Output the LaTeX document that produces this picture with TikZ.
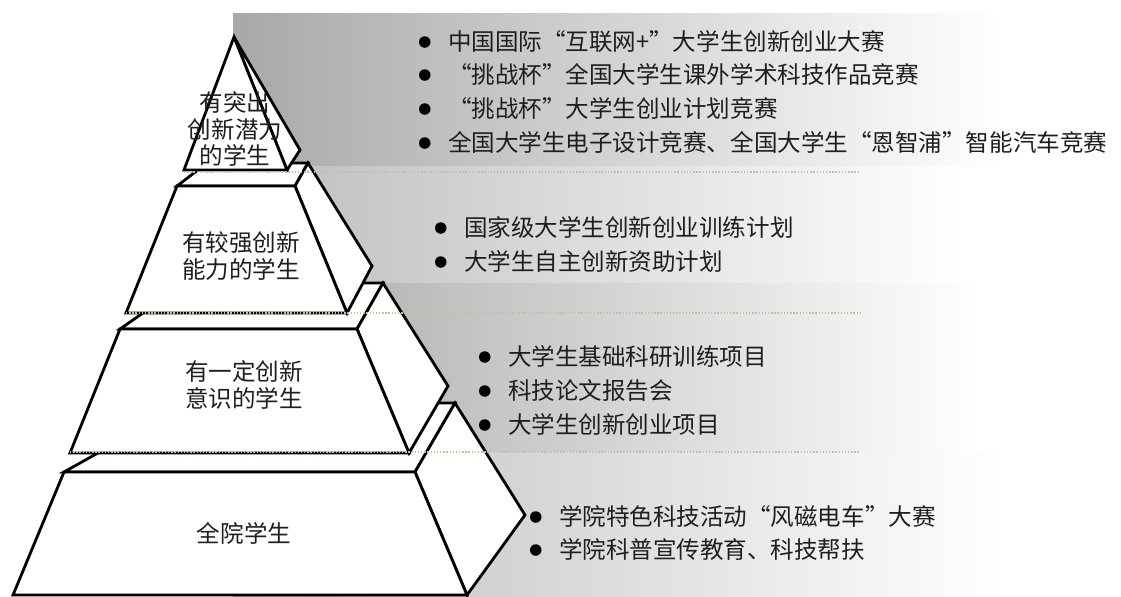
\documentclass[tikz,border=0pt]{standalone}
\usepackage{fontspec}
\setmainfont{Noto Sans CJK SC}
\usetikzlibrary{positioning}
\definecolor{bandgray}{HTML}{A8A8A8}
\definecolor{bandlight}{HTML}{BCBCBC}
\definecolor{golden}{HTML}{CDBE92}
\definecolor{ink}{HTML}{1E1E1E}
\tikzstyle{band} = [left color=#1, middle color=#1!65!white, right color=white, draw=none]
\tikzstyle{face} = [draw, fill=white, line width=1.6pt, miter limit=4]
\tikzstyle{rule} = [draw=golden, line width=0.8pt, densely dotted]
\tikzstyle{level} = [align=center, text=ink, inner sep=0pt, font=\fontsize{13.4}{15}\selectfont]
\tikzstyle{dot} = [circle, fill=black, inner sep=0pt, outer sep=0pt, minimum size=0.23cm]
\tikzstyle{item} = [anchor=west, inner sep=0pt, outer sep=0pt, text=ink, font=\fontsize{13.4}{15}\selectfont, text height=11.8pt, text depth=1.6pt]

\begin{document}
\begin{tikzpicture}[x=0.02cm, y=-0.02cm, node distance=0.35cm]
\useasboundingbox [fill=white] (0,0) rectangle (1121,596);
% grey bands behind the lists
\path [band=bandgray] (233,13) rectangle (1000,166);
\path [band=bandlight] (233,166) rectangle (960,283);
\path [band=bandgray] (233,283) rectangle (980,452);
\path [band=bandlight] (233,452) rectangle (1000,596);
% pyramid, bottom level first
\path [face] (64,472) -- (187,403) -- (455,403) -- (415,472) -- cycle;
\path [face] (415,472) -- (455,403) -- (525,515) -- (467,595) -- cycle;
\path [face] (64,472) -- (415,472) -- (467,595) -- (13,595) -- cycle;
\path [face] (120,329) -- (186,283) -- (383,283) -- (357,329) -- cycle;
\path [face] (357,329) -- (383,283) -- (448,386) -- (409,453) -- cycle;
\path [face] (120,329) -- (357,329) -- (409,453) -- (70,453) -- cycle;
\path [face] (177,186) -- (207,163) -- (308,163) -- (295,186) -- cycle;
\path [face] (295,186) -- (308,163) -- (372,266) -- (347,313) -- cycle;
\path [face] (177,186) -- (295,186) -- (347,313) -- (126,313) -- cycle;
\path [face] (234,37) -- (300,150) -- (287,170) -- cycle;
\path [face] (234,37) -- (287,170) -- (184,170) -- cycle;
% dotted rules
\path [rule] (184,172) -- (860,172);
\path [rule] (126,313) -- (860,313);
\path [rule] (70,452) -- (860,452);
% level names
\node [level] (top) at (235,129) {有突出\\创新潜力\\的学生};
\node [level] (strong) at (241,256) {有较强创新\\能力的学生};
\node [level] (some) at (244,385) {有一定创新\\意识的学生};
\node [level] (all) at (244,533) {全院学生};
% activities
\node [item] (contest) at (448,42) {中国国际“互联网+”大学生创新创业大赛};
\node [item] (cupworks) at (448,75) {“挑战杯”全国大学生课外学术科技作品竞赛};
\node [item] (cupplan) at (448,109) {“挑战杯”大学生创业计划竞赛};
\node [item] (design) at (448,143) {全国大学生电子设计竞赛、全国大学生“恩智浦”智能汽车竞赛};
\node [item] (national) at (464,228) {国家级大学生创新创业训练计划};
\node [item] (funding) at (464,262) {大学生自主创新资助计划};
\node [item] (research) at (508,357) {大学生基础科研训练项目};
\node [item] (papers) at (508,391) {科技论文报告会};
\node [item] (projects) at (508,425) {大学生创新创业项目};
\node [item] (maglev) at (559,517) {学院特色科技活动“风磁电车”大赛};
\node [item] (outreach) at (559,550) {学院科普宣传教育、科技帮扶};
% bullets
\node [dot, left=of contest] (contestdot) {};
\node [dot, left=of cupworks] (cupworksdot) {};
\node [dot, left=of cupplan] (cupplandot) {};
\node [dot, left=of design] (designdot) {};
\node [dot, left=of national] (nationaldot) {};
\node [dot, left=of funding] (fundingdot) {};
\node [dot, left=of research] (researchdot) {};
\node [dot, left=of papers] (papersdot) {};
\node [dot, left=of projects] (projectsdot) {};
\node [dot, left=of maglev] (maglevdot) {};
\node [dot, left=of outreach] (outreachdot) {};
\end{tikzpicture}
\end{document}
